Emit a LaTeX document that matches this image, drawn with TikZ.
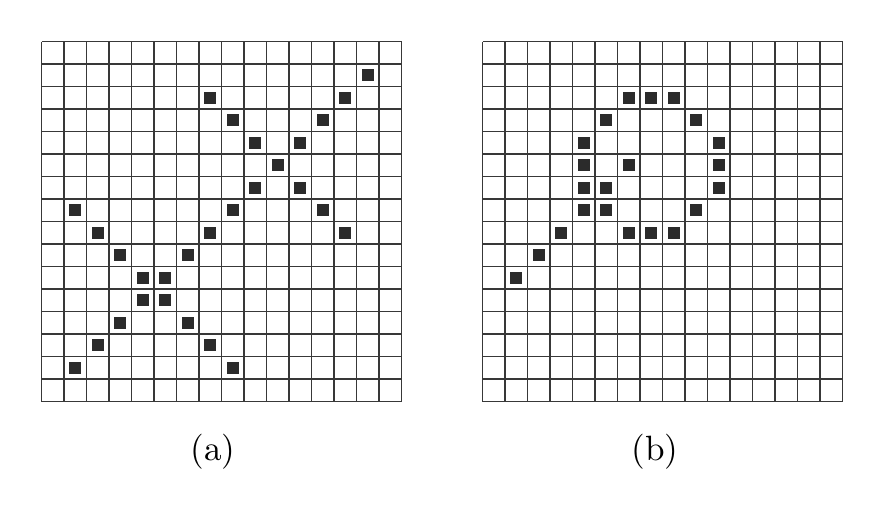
\documentclass[tikz,border=0pt]{standalone}
\usepackage{tikz}
\definecolor{cellline}{HTML}{383838}
\definecolor{cellfill}{HTML}{2B2B2B}

\begin{document}
\begin{tikzpicture}[x=0.225cm,y=0.225cm,
  gr/.style={draw=cellline,line width=0.4pt,step={(1,1)}},
  px/.style={fill=cellfill},
  lbl/.style={font=\normalsize,inner sep=0pt}]
  \useasboundingbox (-1.853,-4.902) rectangle (37.169,17.853);
  % (a)
  \draw[gr] (0,0) grid (16,16);
  \foreach \c/\r in {14/1,7/2,13/2,8/3,12/3,9/4,11/4,10/5,9/6,11/6,
                     1/7,8/7,12/7,2/8,7/8,13/8,3/9,6/9,4/10,5/10,
                     4/11,5/11,3/12,6/12,2/13,7/13,1/14,8/14}
    \fill[px] (\c+.235,15.235-\r) rectangle ++(.53,.53);
  \node[lbl] (la) at (7.61,-2.24) {(a)};
  % (b)
  \begin{scope}[shift={(19.6,0)}]
    \draw[gr] (0,0) grid (16,16);
    \foreach \c/\r in {6/2,7/2,8/2,5/3,9/3,4/4,10/4,4/5,6/5,10/5,
                       4/6,5/6,10/6,4/7,5/7,9/7,3/8,6/8,7/8,8/8,2/9,1/10}
      \fill[px] (\c+.235,15.235-\r) rectangle ++(.53,.53);
    \node[lbl] (lb) at (7.66,-2.24) {(b)};
  \end{scope}
\end{tikzpicture}
\end{document}
